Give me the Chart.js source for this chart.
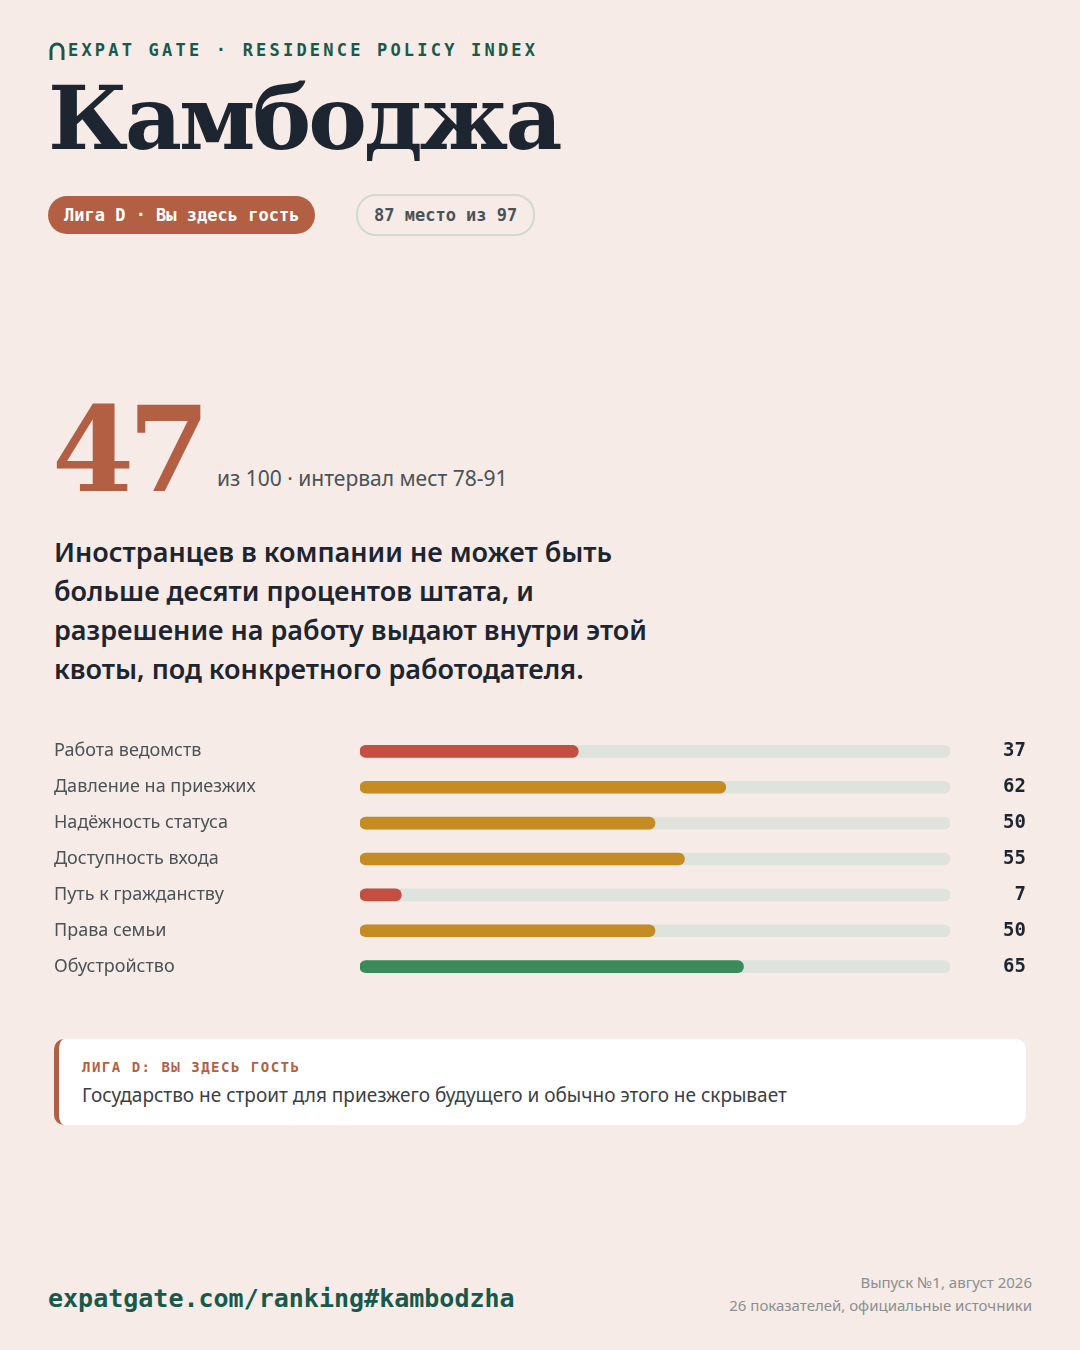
<!DOCTYPE html>
<html><head><meta charset="utf-8">
<script src="https://cdn.jsdelivr.net/npm/chart.js@4/dist/chart.umd.min.js"></script>
<style>
body{margin:0;width:1080px;height:1350px;background:#f6ebe6;position:relative;font-family:"Noto Sans",sans-serif;overflow:hidden}
.abs{position:absolute}
.mono{font-family:"DejaVu Sans Mono",monospace;font-weight:bold}
</style></head><body>
<div class="abs mono" style="left:48px;top:40px;font-size:17px;letter-spacing:3.2px;color:#17594a">
<svg width="18" height="20" style="vertical-align:-5px;margin-right:2px"><path d="M3 19 V9 a6 6 0 0 1 12 0 V19" fill="none" stroke="#17594a" stroke-width="3"/></svg>EXPAT GATE · RESIDENCE POLICY INDEX</div>
<div class="abs" style="left:48px;top:66px;font-family:'DejaVu Serif',serif;font-weight:bold;font-size:88px;color:#1c2530;letter-spacing:-3px">Камбоджа</div>
<div class="abs mono" style="left:48px;top:196px;height:38px;line-height:38px;padding:0 16px;border-radius:19px;background:#b35f44;color:#fff;font-size:17px">Лига D · Вы здесь гость</div>
<div class="abs mono" style="left:356px;top:194px;height:38px;line-height:38px;padding:0 16px;border-radius:20px;border:2px solid #d3d8d2;color:#4a5258;font-size:17px;font-weight:bold">87 место из 97</div>
<div class="abs" style="left:52px;top:380px;font-family:'DejaVu Serif',serif;font-weight:bold;font-size:118px;color:#b35f44;letter-spacing:-6px">47</div>
<div class="abs" style="left:217px;top:464px;font-size:21px;color:#4a5258">из 100 · интервал мест 78-91</div>
<div class="abs" style="left:54px;top:532px;width:620px;font-size:27px;font-weight:600;line-height:39px;color:#1c2530">Иностранцев в компании не может быть больше десяти процентов штата, и разрешение на работу выдают внутри этой квоты, под конкретного работодателя.</div>
<div class="abs" style="left:54px;top:719px;width:972px;height:280px"><canvas id="c"></canvas></div>
<div class="abs" style="left:54px;top:1039px;width:972px;height:86px;background:#fff;border-radius:10px;border-left:5px solid #b35f44;box-sizing:border-box">
<div class="mono" style="position:absolute;left:23px;top:20px;font-size:14px;letter-spacing:1.5px;color:#b35f44">ЛИГА D: ВЫ ЗДЕСЬ ГОСТЬ</div>
<div style="position:absolute;left:23px;top:43px;font-size:19px;color:#3a4046">Государство не строит для приезжего будущего и обычно этого не скрывает</div></div>
<div class="abs mono" style="left:48px;top:1284px;font-size:25px;color:#17594a">expatgate.com/ranking#kambodzha</div>
<div class="abs" style="right:48px;top:1271px;text-align:right;font-size:15px;line-height:23px;color:#8a8f92">Выпуск №1, август 2026<br>26 показателей, официальные источники</div>
<script>
const categories=["Работа ведомств","Давление на приезжих","Надёжность статуса","Доступность входа","Путь к гражданству","Права семьи","Обустройство"];
const values=[37,62,50,55,7,50,65];
const barColors=["#c44e3f","#c48c22","#c48c22","#c48c22","#c44e3f","#c48c22","#3a8a5a"];
const track=[100,100,100,100,100,100,100];
new Chart(document.getElementById('c'),{type:'bar',
data:{labels:categories,datasets:[
{data:values,backgroundColor:barColors,barThickness:12,borderRadius:6,borderSkipped:false,order:0,yAxisID:'y'},
{data:track,backgroundColor:'#dfe3dd',barThickness:12,borderRadius:6,borderSkipped:false,order:1,yAxisID:'y'}]},
options:{indexAxis:'y',responsive:true,maintainAspectRatio:false,animation:false,grouped:false,
plugins:{legend:{display:false},tooltip:{enabled:false}},
layout:{padding:0},
scales:{x:{min:0,max:100,display:false},
y:{position:'left',grid:{display:false},border:{display:false},ticks:{crossAlign:'far',color:'#4a5258',font:{family:'Noto Sans',size:18}},afterFit:s=>{s.width=306}},
y2:{position:'right',type:'category',labels:values.map(String),grid:{display:false},border:{display:false},ticks:{crossAlign:'far',color:'#1c2530',font:{family:'DejaVu Sans Mono',size:19,weight:'bold'}},afterFit:s=>{s.width=76}}}}});
</script></body></html>
